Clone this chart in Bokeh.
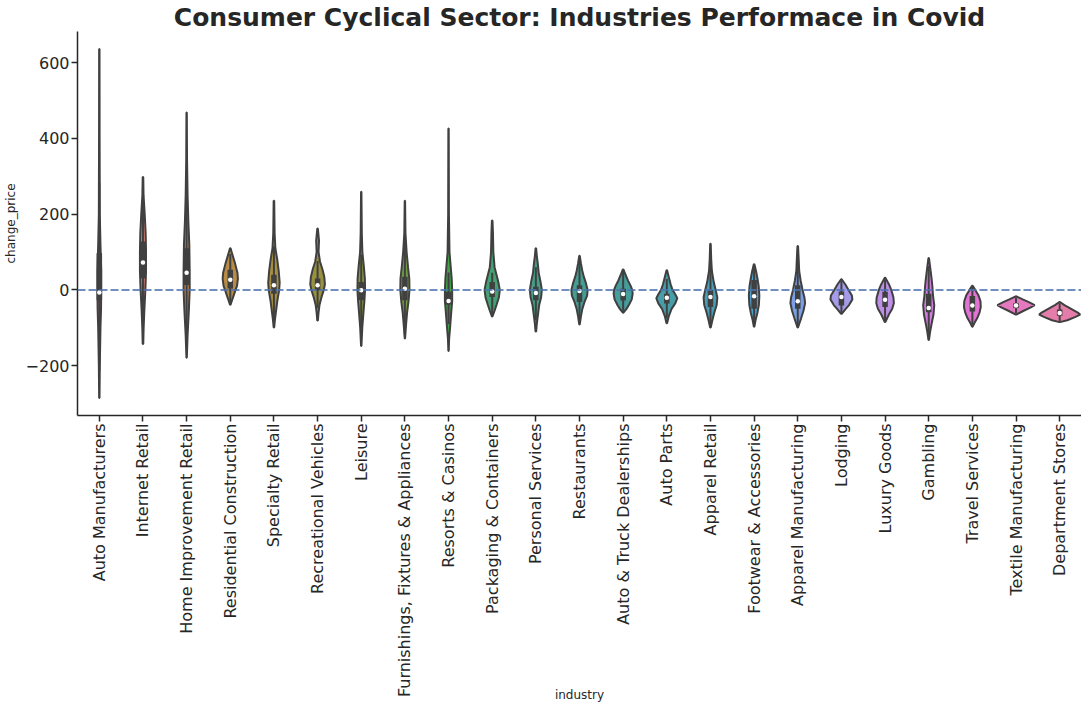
import math
import colorsys
import numpy as np
from bokeh.plotting import figure
from bokeh.models import Range1d, FixedTicker, Span
from bokeh.embed import file_html
from bokeh.resources import INLINE

# ---------------- data ----------------
industries = [
    "Auto Manufacturers", "Internet Retail", "Home Improvement Retail",
    "Residential Construction", "Specialty Retail", "Recreational Vehicles",
    "Leisure", "Furnishings, Fixtures & Appliances", "Resorts & Casinos",
    "Packaging & Containers", "Personal Services", "Restaurants",
    "Auto & Truck Dealerships", "Auto Parts", "Apparel Retail",
    "Footwear & Accessories", "Apparel Manufacturing", "Lodging",
    "Luxury Goods", "Gambling", "Travel Services", "Textile Manufacturing",
    "Department Stores",
]

q1 = [-27, 30, 13, 4, -10, -1, -27, -27, -39, -19, -27, -32, -28, -36, -45, -50, -50, -41, -45, -59, -57, -48, -68]
median = [-7, 72, 45, 27, 12, 12, -1, 3, -29, -4, -8, -3, -11, -21, -19, -17, -30, -19, -26, -48, -41, -41, -61]
q3 = [97, 128, 110, 53, 40, 30, 21, 35, -5, 21, 8, 12, 3, -10, 0, 26, 12, -4, -5, -10, -16, -35, -52]
whisker_low = [-213, -117, -132, -35, -85, -48, -99, -120, -90, -65, -80, -85, -55, -75, -95, -95, -95, -60, -80, -125, -92, -62, -82]
whisker_high = [283, 275, 255, 95, 115, 76, 93, 128, 46, 45, 60, 78, 49, 29, 67, 65, 105, 24, 28, 63, 7, -20, -35]

# density profile of each violin: change_price levels and relative density
violin_levels = [
    [636, 400, 200, 120, 50, 0, -50, -100, -200, -285],
    [298, 250, 200, 150, 100, 50, 0, -50, -100, -143],
    [468, 350, 250, 180, 120, 50, 0, -50, -120, -179],
    [110, 95, 70, 45, 30, 10, 0, -15, -30, -39],
    [235, 150, 110, 80, 50, 20, 0, -30, -60, -80, -99],
    [162, 130, 100, 75, 55, 35, 15, 0, -20, -40, -60, -81],
    [259, 150, 100, 60, 30, 0, -30, -60, -100, -148],
    [235, 150, 100, 60, 30, 0, -30, -60, -90, -128],
    [426, 200, 100, 60, 30, 0, -30, -60, -100, -130, -161],
    [183, 150, 100, 60, 40, 20, 0, -20, -40, -55, -70],
    [110, 90, 70, 45, 20, 0, -20, -40, -70, -90, -110],
    [90, 70, 50, 35, 20, 0, -15, -30, -50, -70, -91],
    [54, 40, 25, 10, 0, -10, -25, -40, -50, -60],
    [52, 35, 15, 0, -12, -22, -35, -50, -70, -88],
    [122, 80, 50, 20, 0, -20, -40, -60, -80, -99],
    [68, 50, 30, 10, -15, -40, -60, -80, -97],
    [116, 80, 50, 25, 0, -20, -35, -55, -75, -90, -99],
    [28, 15, 0, -15, -25, -40, -50, -63],
    [32, 15, 0, -20, -35, -50, -65, -85],
    [84, 60, 30, 10, -15, -40, -65, -90, -110, -132],
    [11, 0, -15, -30, -45, -60, -75, -88, -97],
    [-17, -25, -33, -40, -47, -55, -65],
    [-32, -40, -50, -60, -65, -72, -80, -85],
]
violin_density = [
    [0.2, 0.3, 0.5, 1.2, 2.0, 2.0, 1.8, 1.2, 0.5, 0.2],
    [0.3, 0.6, 1.8, 2.8, 3.2, 3.2, 2.5, 1.5, 0.7, 0.3],
    [0.2, 0.4, 1.0, 1.8, 2.8, 3.2, 3.2, 2.4, 1.0, 0.2],
    [0.3, 2.0, 5.0, 7.5, 8.0, 7.0, 5.5, 3.5, 1.5, 0.3],
    [0.3, 0.7, 1.5, 3.5, 5.0, 6.0, 5.5, 3.5, 2.0, 1.0, 0.3],
    [0.3, 1.5, 1.0, 2.5, 5.0, 7.0, 7.7, 6.5, 4.0, 2.0, 1.0, 0.3],
    [0.2, 0.6, 1.2, 2.8, 3.8, 4.0, 3.3, 2.3, 1.1, 0.2],
    [0.2, 0.6, 1.8, 3.3, 4.6, 4.8, 3.8, 2.3, 1.3, 0.2],
    [0.2, 0.4, 1.0, 2.3, 3.3, 3.8, 3.8, 2.8, 1.6, 0.6, 0.2],
    [0.3, 0.8, 1.2, 2.5, 4.5, 6.5, 8.0, 7.0, 4.5, 2.5, 0.3],
    [0.3, 1.0, 2.0, 3.0, 5.0, 6.3, 5.5, 3.5, 2.0, 1.0, 0.3],
    [0.3, 1.5, 3.0, 4.5, 6.5, 8.5, 8.0, 5.5, 3.0, 1.5, 0.3],
    [0.3, 2.5, 5.0, 8.0, 9.5, 10.0, 9.0, 6.0, 3.5, 0.3],
    [0.3, 2.0, 4.0, 6.0, 9.0, 11.0, 9.0, 5.0, 2.0, 0.3],
    [0.3, 0.8, 1.5, 3.5, 5.5, 7.2, 6.5, 4.0, 2.0, 0.3],
    [0.3, 2.0, 3.5, 4.8, 5.5, 5.0, 3.5, 1.5, 0.3],
    [0.3, 1.0, 1.5, 3.0, 5.0, 7.0, 7.7, 6.0, 3.5, 1.5, 0.3],
    [0.3, 4.0, 7.5, 11.0, 11.5, 8.0, 4.5, 0.3],
    [0.3, 4.0, 6.5, 8.8, 9.2, 7.5, 4.0, 0.3],
    [0.3, 1.5, 3.0, 3.8, 4.5, 5.8, 5.0, 3.0, 1.5, 0.3],
    [0.3, 3.0, 6.5, 8.5, 8.8, 7.5, 5.0, 2.0, 0.3],
    [0.3, 7.0, 14.0, 19.5, 15.0, 8.0, 0.3],
    [0.3, 5.0, 12.0, 19.0, 21.5, 16.0, 8.0, 0.3],
]

y_ticks = [-200, 0, 200, 400, 600]

# ---------------- colours: seaborn husl palette, desaturated ----------------
_M = [[3.2406, -1.5372, -0.4986], [-0.9689, 1.8758, 0.0415], [0.0557, -0.2040, 1.0570]]
_refU, _refV, _kappa, _eps = 0.19784, 0.46834, 903.3, 0.008856


def _max_chroma(L, H):
    hrad = math.radians(H)
    sinH, cosH = math.sin(hrad), math.cos(hrad)
    sub1 = (L + 16) ** 3 / 1560896.0
    sub2 = sub1 if sub1 > _eps else L / _kappa
    result = float("inf")
    for m1, m2, m3 in _M:
        top = (0.99915 * m1 + 1.05122 * m2 + 1.14460 * m3) * sub2
        rbottom = 0.86330 * m3 - 0.17266 * m2
        lbottom = 0.12949 * m3 - 0.38848 * m1
        bottom = (rbottom * sinH + lbottom * cosH) * sub2
        for t in (0.0, 1.0):
            C = L * (top - 1.05122 * t) / (bottom + 0.17266 * sinH * t)
            if 0.0 < C < result:
                result = C
    return result


def _husl_to_rgb(h, s, l):
    c = _max_chroma(l, h) / 100.0 * s
    hr = math.radians(h)
    U, V = math.cos(hr) * c, math.sin(hr) * c
    varY = ((l + 16) / 116.0) ** 3 if l > 8 else l / _kappa
    varU = U / (13.0 * l) + _refU
    varV = V / (13.0 * l) + _refV
    Y = varY
    X = -(9.0 * Y * varU) / ((varU - 4.0) * varV - varU * varV)
    Z = (9.0 * Y - 15.0 * varV * Y - varV * X) / (3.0 * varV)
    out = []
    for row in _M:
        v = row[0] * X + row[1] * Y + row[2] * Z
        v = 12.92 * v if v <= 0.0031308 else 1.055 * v ** (1 / 2.4) - 0.055
        out.append(min(max(v, 0.0), 1.0))
    return out


n = len(industries)
hues = (np.linspace(0, 1, n + 1)[:-1] + 0.01) % 1 * 359
colors, lights = [], []
for hv in hues:
    r, g, b = _husl_to_rgb(hv, 0.9 * 99, 0.65 * 99)
    hh, ll, ss = colorsys.rgb_to_hls(r, g, b)
    lights.append(ll)
    r, g, b = colorsys.hls_to_rgb(hh, ll, ss * 0.75)
    colors.append("#%02x%02x%02x" % (round(r * 255), round(g * 255), round(b * 255)))
lum = min(lights) * 0.6
gray = "#%02x%02x%02x" % ((round(lum * 255),) * 3)

# ---------------- figure ----------------
FONT = "DejaVu Sans"
TXT = "#262626"

p = figure(width=1081, height=705, output_backend="svg", toolbar_location=None,
           x_range=Range1d(-0.5, 22.5), y_range=Range1d(-331.5, 682),
           min_border_left=60, min_border_right=0, min_border_top=24,
           min_border_bottom=200, background_fill_color="white",
           border_fill_color="white", outline_line_color=None)

p.title.text = "Consumer Cyclical Sector: Industries Performace in Covid"
p.title.text_font = FONT
p.title.text_font_size = "25px"
p.title.text_font_style = "bold"
p.title.text_color = TXT
p.title.align = "center"
p.title.standoff = 0

p.xgrid.visible = False
p.ygrid.visible = False

max_half = 0.47
dmax = max(max(d) for d in violin_density)
xs, ys = [], []
for i in range(n):
    lv = np.array(violin_levels[i], dtype=float)
    dv = np.array(violin_density[i], dtype=float) / dmax * max_half
    order = np.argsort(lv)
    lv, dv = lv[order], dv[order]
    xs.append(list(np.concatenate([i + dv, (i - dv)[::-1]])))
    ys.append(list(np.concatenate([lv, lv[::-1]])))

p.patches(xs, ys, fill_color=colors, line_color=gray, line_width=2)

idx = list(range(n))
p.segment(x0=idx, y0=whisker_low, x1=idx, y1=whisker_high, line_color=gray, line_width=2)
p.segment(x0=idx, y0=q1, x1=idx, y1=q3, line_color=gray, line_width=5.5)
p.scatter(x=idx, y=median, size=4.5, fill_color="white", line_color=None)

p.add_layout(Span(location=0, dimension="width", line_color="#4c72b0", line_alpha=0.8,
                  line_dash="8 3", line_width=2))

# axes
p.xaxis.ticker = FixedTicker(ticks=idx)
p.xaxis.major_label_overrides = {i: name for i, name in enumerate(industries)}
p.xaxis.major_label_orientation = math.pi / 2
p.xaxis.axis_label = "industry"

p.yaxis.ticker = FixedTicker(ticks=y_ticks)
p.yaxis.major_label_overrides = {t: (("\u2212" + str(-t)) if t < 0 else str(t)) for t in y_ticks}
p.yaxis.axis_label = "change_price"

for ax in (p.xaxis[0], p.yaxis[0]):
    ax.axis_line_color = TXT
    ax.axis_line_width = 1.5
    ax.major_tick_line_color = TXT
    ax.major_tick_line_width = 1.5
    ax.major_tick_out = 6
    ax.major_tick_in = 0
    ax.minor_tick_out = 0
    ax.minor_tick_in = 0
    ax.major_label_text_font = FONT
    ax.major_label_text_font_size = "16px"
    ax.major_label_text_color = TXT
    ax.major_label_standoff = 2
    ax.axis_label_text_font = FONT
    ax.axis_label_text_font_size = "12px"
    ax.axis_label_text_font_style = "normal"
    ax.axis_label_text_color = TXT

p.xaxis.axis_label_standoff = -12
p.yaxis.axis_label_standoff = 5

open("out.html", "w").write(file_html(p, INLINE))
